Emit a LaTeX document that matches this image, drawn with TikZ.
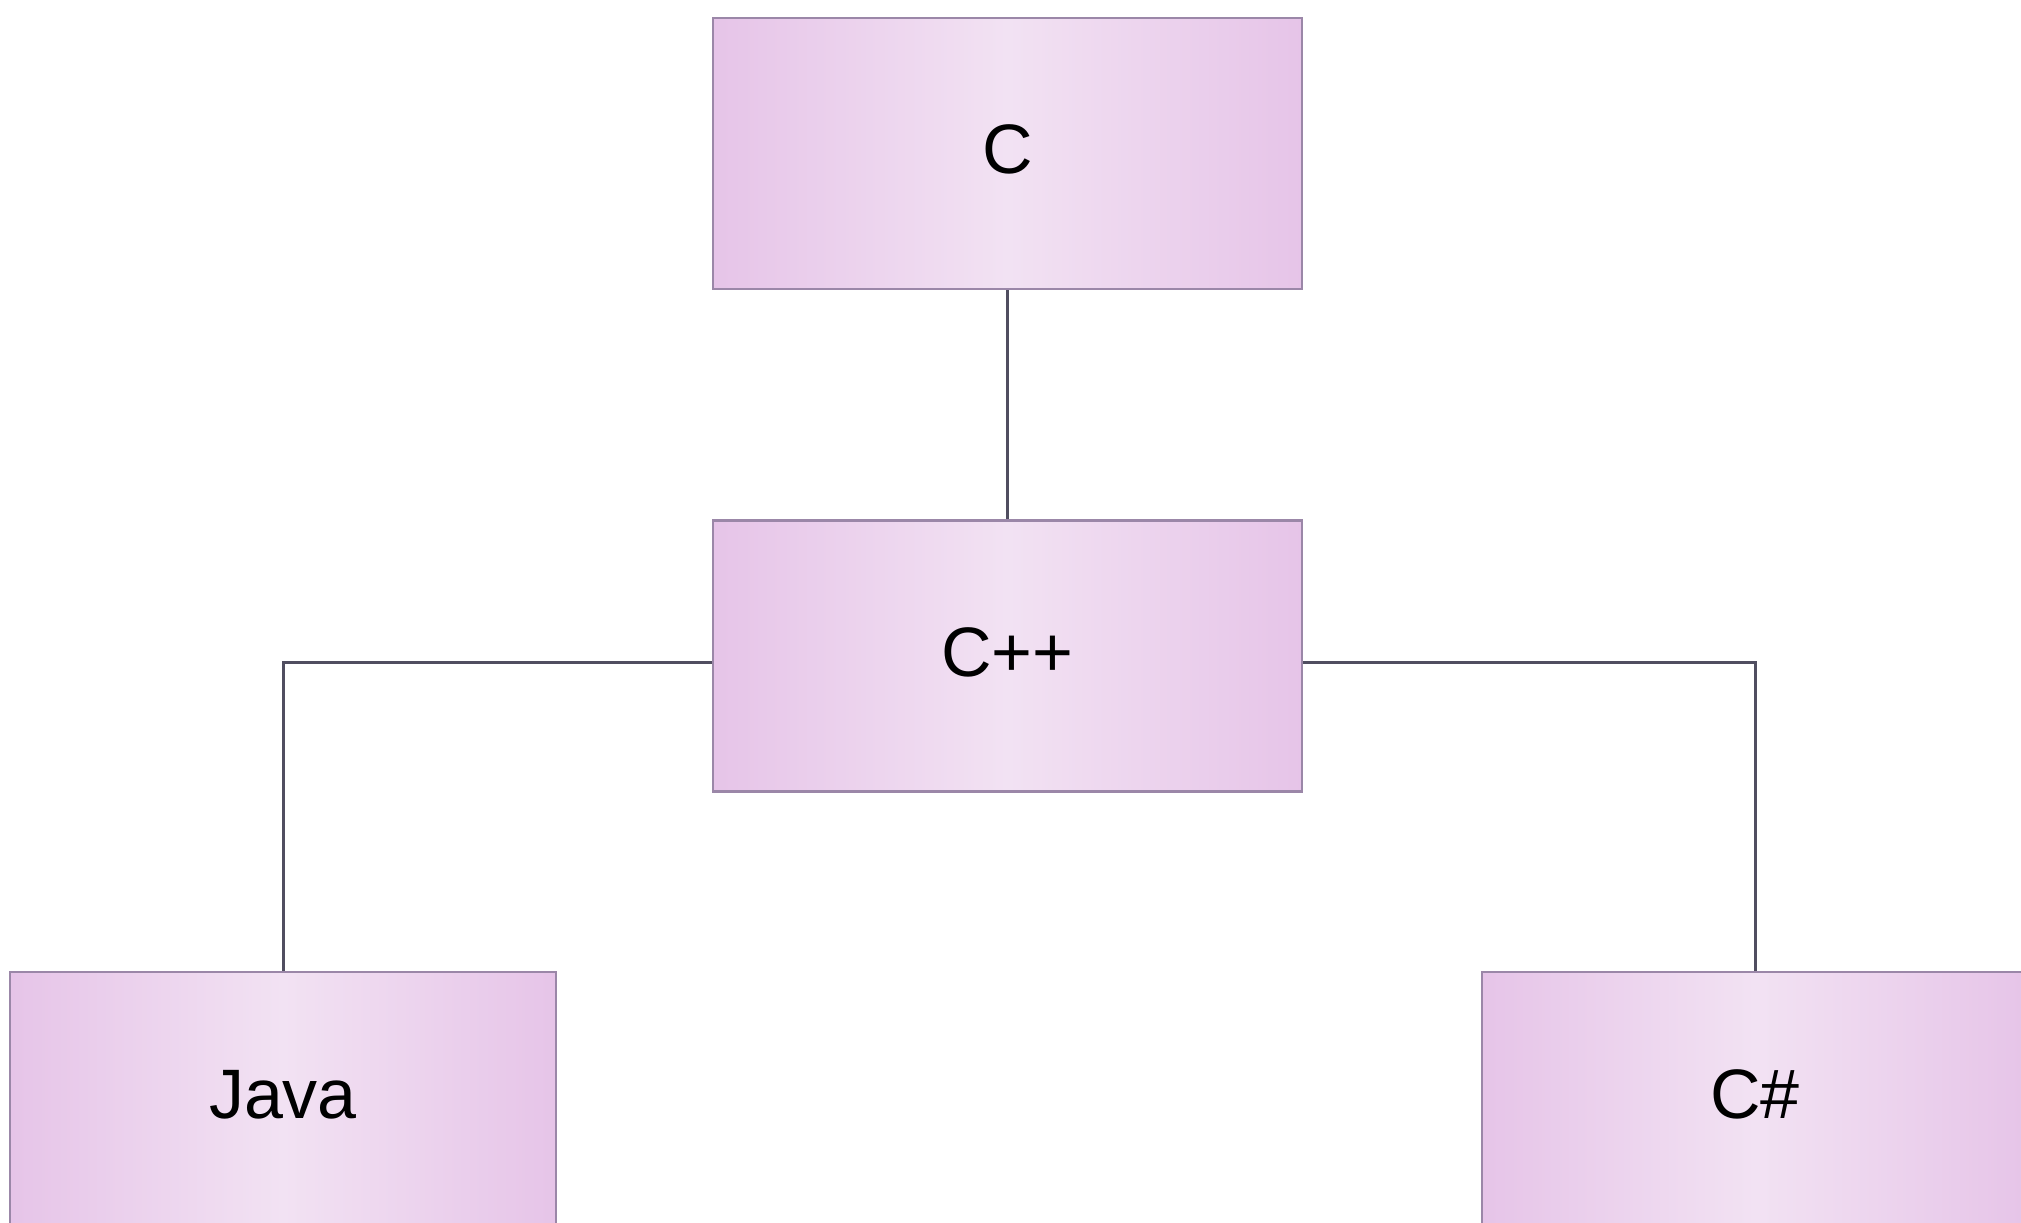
\documentclass[tikz,border=0pt]{standalone}
\usepackage{fontspec}
\setmainfont{Liberation Sans}
\begin{document}
\begin{tikzpicture}[x=1pt,y=-1pt,
  langbox/.style={rectangle, draw={rgb,255:red,155;green,135;blue,168}, line width=2.5pt,
    left color={rgb,255:red,230;green,196;blue,232},
    right color={rgb,255:red,230;green,196;blue,232},
    middle color={rgb,255:red,242;green,226;blue,243},
    inner sep=0pt, text height=52pt, text depth=12pt,
    font=\fontsize{70}{84}\selectfont},
  link/.style={draw={rgb,255:red,80;green,78;blue,96}, line width=3pt}]
\useasboundingbox (0,0) rectangle (2021,1223);
\clip (0,0) rectangle (2021,1223);
\fill[white] (0,0) rectangle (2021,1223);
\node[langbox, minimum width=589pt, minimum height=271pt] (c) at (1007.5,153.5) {C};
\node[langbox, minimum width=589pt, minimum height=271pt] (cpp) at (1007.5,656) {C++};
\node[langbox, minimum width=546pt, minimum height=252pt] (java) at (283,1098) {Java};
\node[langbox, minimum width=546pt, minimum height=252pt] (cs) at (1755,1098) {C\#};
\draw[link] (c.south) -- (cpp.north);
\draw[link] ([yshift=-6pt]cpp.west) -| (java.north);
\draw[link] ([yshift=-6pt]cpp.east) -| (cs.north);
\end{tikzpicture}
\end{document}
